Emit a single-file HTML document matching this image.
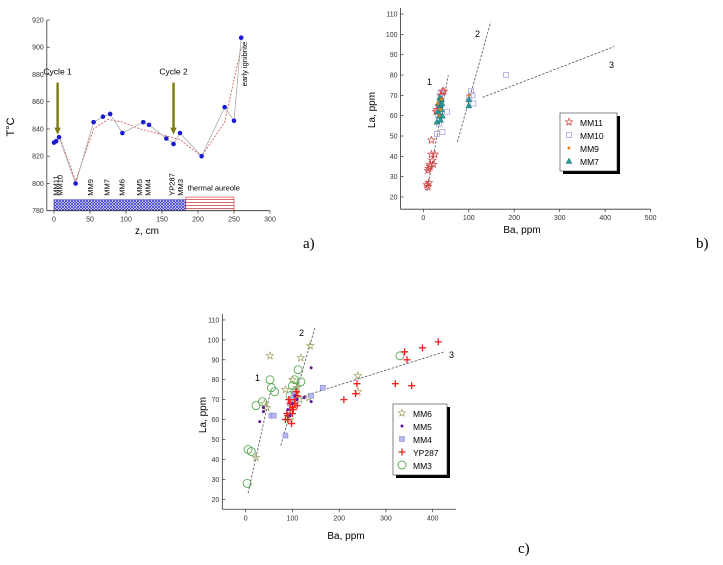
<!DOCTYPE html>
<html><head><meta charset="utf-8"><style>
html,body{margin:0;padding:0;background:#fff;}
svg{display:block;font-family:"Liberation Sans",Arial,sans-serif;}
</style></head><body>
<svg id="s" width="723" height="565" viewBox="0 0 723 565">
<defs>
<pattern id="hb" width="3" height="3" patternUnits="userSpaceOnUse"><rect width="3" height="3" fill="#fff"/><path d="M0,0L3,3M3,0L0,3" stroke="#3a3ad0" stroke-width="0.8"/></pattern>
<pattern id="hr" width="6" height="3" patternUnits="userSpaceOnUse"><rect width="6" height="3" fill="#fff"/><path d="M0,1.5H6" stroke="#d04040" stroke-width="0.8"/></pattern>
</defs>
<g id="ga"></g>
<g id="gb"></g>
<g id="gc"></g>
<text x="303" y="248" font-family="Liberation Serif" font-size="15">a)</text>
<text x="696" y="248" font-family="Liberation Serif" font-size="15">b)</text>
<text x="518" y="553" font-family="Liberation Serif" font-size="15">c)</text>
</svg>
<script>
// Panel a data
const aZ=[0,3,7,30,55,68,78,95,124,132,156,166,175,205,237,250,260];
const aT=[830,831,834,800,845,849,851,837,845,843,833,829,837,820,856,846,907];
const aTrendZ=[7,30,55,75,95,120,156,175,205,237,260];
const aTrendT=[835,802,840,847,845,840,835,832,820,845,900];
const aYTicks=[780,800,820,840,860,880,900,920];
const aXTicks=[0,50,100,150,200,250,300];
const aSamples=["MM11","MM10","MM9","MM7","MM6","MM5","MM4","YP287","MM3"];
const aSampleZ=[2,8,50,73,94,118,130,163,175];
// Panel b data
const bMM11x=[10,12,8,12,15,10,14,18,25,20,18,30,35,38,42,45,22,28];
const bMM11y=[25,27,26,34,35,33,36,41,41,38,48,63,65,70,72,72,36,62];
const bMM10x=[30,42,52,35,100,105,110,182,38,108,33];
const bMM10y=[51,52,62,56,69,72,66,80,71,70,60];
const bMM9x=[35,40,100,38,32];
const bMM9y=[60,68,70,63,66];
const bMM7x=[30,35,38,40,33,36,40,42,35,100,100,32,38,41];
const bMM7y=[57,60,65,68,66,69,63,60,67,65,68,62,58,66];
// Panel c data
const cMM6x=[52,138,118,85,40,22,45,240,240,135,110,115,95,100,108];
const cMM6y=[92,97,91,75,68,41,66,82,74,71,76,70,60,80,73];
const cMM5x=[38,38,140,140,125,105,100,90,30,110,95];
const cMM5y=[64,66,86,69,71,72,68,65,59,70,62];
const cMM4x=[55,60,85,140,165,100,95,105];
const cMM4y=[62,62,52,72,76,70,68,73];
const cYPx=[85,90,95,100,105,98,100,110,105,92,90,210,235,238,320,340,345,355,378,412,110,102,95,88,108];
const cYPy=[60,62,65,66,68,58,63,72,70,70,60,70,73,78,78,94,90,77,96,99,67,65,68,63,74];
const cMM3x=[3,5,12,22,36,52,55,62,100,105,112,118,105,100,330,95];
const cMM3y=[28,45,44,67,69,80,76,74,77,80,85,79,74,70,92,72];
const bYTicks=[20,30,40,50,60,70,80,90,100,110];
const bXTicks=[0,100,200,300,400,500];
const cXTicks=[0,100,200,300,400];

const NS="http://www.w3.org/2000/svg";
function mk(parent,tag,attrs,txt){const e=document.createElementNS(NS,tag);for(const k in attrs)e.setAttribute(k,attrs[k]);if(txt!==undefined)e.textContent=txt;parent.appendChild(e);return e;}

// ---------- Panel A ----------
const ga=document.getElementById('ga');
const ax=z=>54+z*0.72, ay=t=>20+(920-t)*1.362;
let e;
e=mk(ga,'rect',{x:ax(0),y:ay(788),width:ax(183)-ax(0),height:ay(780)-ay(788),fill:'url(#hb)',stroke:'#3a3ad0','stroke-width':0.7});

e=mk(ga,'rect',{x:ax(183),y:ay(790),width:ax(250)-ax(183),height:ay(780)-ay(790),fill:'url(#hr)',stroke:'#d04040','stroke-width':0.7});

e=mk(ga,'path',{d:'M'+ax(-10)+','+ay(780)+'H'+ax(300)+'M'+ax(-10)+','+ay(780)+'V'+ay(920),stroke:'#333',fill:'none','stroke-width':0.8});

aYTicks.forEach(t=>{mk(ga,'line',{x1:ax(-10),x2:ax(-10)+3,y1:ay(t),y2:ay(t),stroke:'#333','stroke-width':0.7});
e=mk(ga,'text',{x:ax(-10)-3,y:ay(t)+2.5,'font-size':7,'text-anchor':'end',fill:'#333'},t);
});
aXTicks.forEach(z=>{mk(ga,'line',{x1:ax(z),x2:ax(z),y1:ay(780),y2:ay(780)+3,stroke:'#333','stroke-width':0.7});
e=mk(ga,'text',{x:ax(z),y:ay(780)+11,'font-size':7,'text-anchor':'middle',fill:'#333'},z);
});
e=mk(ga,'text',{x:147,y:234,'font-size':10,'text-anchor':'middle'},'z, cm');

e=mk(ga,'text',{x:14,y:127,'font-size':11,'text-anchor':'middle',transform:'rotate(-90 14 127)'},'T°C');

e=mk(ga,'polyline',{points:aTrendZ.map((z,i)=>ax(z)+','+ay(aTrendT[i])).join(' '),fill:'none',stroke:'#d05050','stroke-width':0.8,'stroke-dasharray':'2,1.5'});

e=mk(ga,'polyline',{points:aZ.map((z,i)=>ax(z)+','+ay(aT[i])).join(' '),fill:'none',stroke:'#aaa','stroke-width':0.8});

aZ.forEach((z,i)=>{e=mk(ga,'circle',{cx:ax(z),cy:ay(aT[i]),r:2.3,fill:'#1a1ad0'});
});
aSamples.forEach((s,i)=>{const x=ax(aSampleZ[i])+3,y=ay(791);
e=mk(ga,'text',{x:x,y:y,'font-size':7.5,transform:'rotate(-90 '+x+' '+y+')'},s);
});
e=mk(ga,'text',{x:ax(183)+2,y:ay(795),'font-size':7.5},'thermal aureole');

{const x=ax(268),y=ay(904);e=mk(ga,'text',{x:x,y:y,'font-size':7.5,transform:'rotate(-90 '+x+' '+y+')','text-anchor':'end'},'early ignibrite');
}
[[5,'Cycle 1'],[166,'Cycle 2']].forEach(([z,l])=>{
e=mk(ga,'text',{x:ax(z),y:ay(880),'font-size':8.5,'text-anchor':'middle'},l);

e=mk(ga,'path',{d:'M'+(ax(z)-1.2)+','+ay(874)+'V'+ay(841)+'h-2l3.2,7l3.2,-7h-2V'+ay(874)+'z',fill:'#7a7a10'});
});

// ---------- scatter helpers ----------
function marker(g,type,x,y,color,name){
 let el;
 if(type==='star'){let p=[];for(let k=0;k<10;k++){const r=k%2?1.6:3.8,a=-Math.PI/2+k*Math.PI/5;p.push((x+r*Math.cos(a)).toFixed(1)+','+(y+r*Math.sin(a)).toFixed(1));}
  el=mk(g,'polygon',{points:p.join(' '),fill:'none',stroke:color,'stroke-width':0.7});}
 else if(type==='sq'){el=mk(g,'rect',{x:x-2.5,y:y-2.5,width:5,height:5,fill:'none',stroke:color,'stroke-width':0.7});}
 else if(type==='sqf'){el=mk(g,'rect',{x:x-2.5,y:y-2.5,width:5,height:5,fill:'#b8b8f0',stroke:color,'stroke-width':0.5});}
 else if(type==='dot'){el=mk(g,'circle',{cx:x,cy:y,r:1.5,fill:color});}
 else if(type==='tri'){el=mk(g,'polygon',{points:x+','+(y-3)+' '+(x-3)+','+(y+2.5)+' '+(x+3)+','+(y+2.5),fill:color,stroke:'#0a6060','stroke-width':0.4});}
 else if(type==='plus'){el=mk(g,'path',{d:'M'+(x-3.5)+','+y+'h7M'+x+','+(y-3.5)+'v7',stroke:color,'stroke-width':1.3});}
 else if(type==='circ'){el=mk(g,'circle',{cx:x,cy:y,r:4,fill:'none',stroke:color,'stroke-width':0.8});}
 
 
}
function axes(g,sx,sy,xmin,xmax,ymin,xt,yt,xtitle,xtx,xty,ytx,yty){
 let el=mk(g,'path',{d:'M'+sx(xmin)+','+sy(ymin)+'H'+sx(xmax)+'M'+sx(xmin)+','+sy(ymin)+'V'+sy(113),stroke:'#333',fill:'none','stroke-width':0.8});
 
 yt.forEach(t=>{mk(g,'line',{x1:sx(xmin),x2:sx(xmin)+3,y1:sy(t),y2:sy(t),stroke:'#333','stroke-width':0.7});
  el=mk(g,'text',{x:sx(xmin)-3,y:sy(t)+2.5,'font-size':7,'text-anchor':'end',fill:'#333'},t);
  });
 xt.forEach(t=>{mk(g,'line',{x1:sx(t),x2:sx(t),y1:sy(ymin),y2:sy(ymin)+3,stroke:'#333','stroke-width':0.7});
  el=mk(g,'text',{x:sx(t),y:sy(ymin)+11,'font-size':7,'text-anchor':'middle',fill:'#333'},t);
  });
 el=mk(g,'text',{x:xtx,y:xty,'font-size':10,'text-anchor':'middle'},xtitle);
 
 el=mk(g,'text',{x:ytx,y:yty,'font-size':10,'text-anchor':'middle',transform:'rotate(-90 '+ytx+' '+yty+')'},'La, ppm');
 
}
function dline(g,sx,sy,x1,y1,x2,y2){const el=mk(g,'line',{x1:sx(x1),y1:sy(y1),x2:sx(x2),y2:sy(y2),stroke:'#555','stroke-width':0.8,'stroke-dasharray':'2.5,1.5'});
 }
function lbl(g,x,y,t){const el=mk(g,'text',{x:x,y:y,'font-size':9},t);}
function legend(g,x,y,w,items){
 let el=mk(g,'rect',{x:x+3,y:y+3,width:w,height:items.length*13+6,fill:'#000'});
 
 el=mk(g,'rect',{x:x,y:y,width:w,height:items.length*13+6,fill:'#fff',stroke:'#333','stroke-width':0.6});
 
 items.forEach((it,i)=>{const yy=y+10+i*13;marker(g,it[0],x+9,yy-1,it[1],'legend-marker');
  const t=mk(g,'text',{x:x+20,y:yy+3,'font-size':8.5},it[2]);});
}

// ---------- Panel B ----------
const gb=document.getElementById('gb');
const bx=v=>423.3+v*0.4547, by=v=>197+(20-v)*2.033;
axes(gb,bx,by,-50,500,14,bXTicks,bYTicks,'Ba, ppm',522,233,375,110);
dline(gb,bx,by,8,23,55,80);dline(gb,bx,by,75,47,148,106);dline(gb,bx,by,130,69,420,94);
lbl(gb,427,85,'1');lbl(gb,475,37,'2');lbl(gb,609,68,'3');
bMM11x.forEach((v,i)=>marker(gb,'star',bx(v),by(bMM11y[i]),'#d04040','mm11-point'));
bMM10x.forEach((v,i)=>marker(gb,'sq',bx(v),by(bMM10y[i]),'#9a9ad8','mm10-point'));
bMM7x.forEach((v,i)=>marker(gb,'tri',bx(v),by(bMM7y[i]),'#2a9a9a','mm7-point'));
bMM9x.forEach((v,i)=>marker(gb,'dot',bx(v),by(bMM9y[i]),'#e08020','mm9-point'));
legend(gb,560,113,57,[['star','#d04040','MM11'],['sq','#9a9ad8','MM10'],['dot','#e08020','MM9'],['tri','#2a9a9a','MM7']]);

// ---------- Panel C ----------
const gc=document.getElementById('gc');
const cx=v=>245.7+v*0.4675, cy=v=>499.3+(20-v)*1.993;
axes(gc,cx,cy,-50,450,15,cXTicks,bYTicks,'Ba, ppm',346,539,206,415);
dline(gc,cx,cy,5,23,55,76);dline(gc,cx,cy,75,47,148,106);dline(gc,cx,cy,100,70,425,94);
lbl(gc,255,381,'1');lbl(gc,299,336,'2');lbl(gc,449,358,'3');
cMM3x.forEach((v,i)=>marker(gc,'circ',cx(v),cy(cMM3y[i]),'#40a040','mm3-point'));
cMM6x.forEach((v,i)=>marker(gc,'star',cx(v),cy(cMM6y[i]),'#a0a060','mm6-point'));
cMM4x.forEach((v,i)=>marker(gc,'sqf',cx(v),cy(cMM4y[i]),'#7a7ad0','mm4-point'));
cYPx.forEach((v,i)=>marker(gc,'plus',cx(v),cy(cYPy[i]),'#ee2020','yp287-point'));
cMM5x.forEach((v,i)=>marker(gc,'dot',cx(v),cy(cMM5y[i]),'#6a10a0','mm5-point'));
legend(gc,393,404,54,[['star','#a0a060','MM6'],['dot','#6a10a0','MM5'],['sqf','#7a7ad0','MM4'],['plus','#ee2020','YP287'],['circ','#40a040','MM3']]);
</script>
</body></html>
